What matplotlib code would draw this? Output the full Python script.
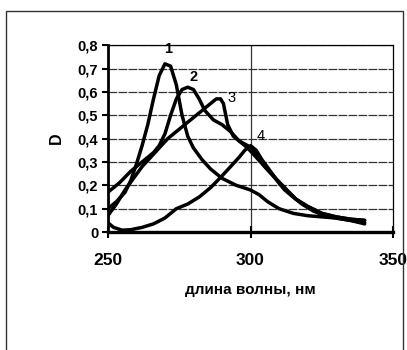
import matplotlib.pyplot as plt
from matplotlib.patches import Rectangle

# ---------------------------------------------------------------------
# Data
# ---------------------------------------------------------------------

x1 = [250, 253, 256, 258, 260, 262, 264, 266, 268, 270, 272, 274, 276, 278,
      280, 283, 286, 290, 295, 300, 303, 306, 310, 315, 320, 325, 330, 335, 340]
y1 = [0.10, 0.13, 0.17, 0.22, 0.29, 0.37, 0.46, 0.57, 0.67, 0.72, 0.71, 0.63,
      0.50, 0.41, 0.36, 0.31, 0.27, 0.23, 0.20, 0.18, 0.16, 0.13, 0.10, 0.08,
      0.07, 0.065, 0.06, 0.05, 0.04]

x2 = [250, 254, 258, 262, 266, 268, 270, 272, 274, 276, 278, 280, 282, 284,
      287, 290, 293, 296, 299, 302, 305, 308, 312, 316, 320, 325, 330, 335, 340]
y2 = [0.17, 0.21, 0.26, 0.30, 0.34, 0.37, 0.42, 0.50, 0.57, 0.61, 0.62, 0.61,
      0.57, 0.52, 0.48, 0.46, 0.43, 0.39, 0.36, 0.32, 0.28, 0.24, 0.18, 0.14,
      0.11, 0.08, 0.065, 0.055, 0.05]

x3 = [250, 253, 256, 259, 262, 265, 268, 271, 274, 277, 280, 283, 286, 288,
      289.5, 290.5, 292, 294, 296, 299, 302, 305, 308, 312, 316, 320, 325,
      330, 335, 340]
y3 = [0.07, 0.12, 0.18, 0.23, 0.28, 0.32, 0.36, 0.40, 0.43, 0.46, 0.49, 0.52,
      0.55, 0.57, 0.57, 0.55, 0.46, 0.41, 0.39, 0.37, 0.33, 0.28, 0.24, 0.19,
      0.14, 0.11, 0.08, 0.065, 0.055, 0.05]

x4 = [250, 252, 255, 258, 262, 266, 270, 274, 278, 282, 286, 290, 293, 296,
      298, 300, 302, 304, 307, 310, 314, 318, 322, 326, 330, 335, 340]
y4 = [0.04, 0.02, 0.008, 0.01, 0.02, 0.035, 0.06, 0.10, 0.12, 0.15, 0.19,
      0.24, 0.28, 0.32, 0.35, 0.37, 0.35, 0.31, 0.26, 0.21, 0.16, 0.12, 0.09,
      0.07, 0.06, 0.05, 0.035]

curve_labels = ["1", "2", "3", "4"]
label_x = [271, 280, 293.5, 303.5]
label_y = [0.785, 0.665, 0.575, 0.41]

x_ticks = [250, 300, 350]
y_ticks = [0, 0.1, 0.2, 0.3, 0.4, 0.5, 0.6, 0.7, 0.8]
y_ticklabels = ["0", "0,1", "0,2", "0,3", "0,4", "0,5", "0,6", "0,7", "0,8"]


# ---------------------------------------------------------------------
# Plot
# ---------------------------------------------------------------------

def main() -> None:
    plt.rcParams["font.family"] = ["Liberation Sans", "DejaVu Sans"]
    plt.rcParams["font.weight"] = "bold"

    fig = plt.figure(figsize=(4.07, 3.5), dpi=100)
    ax = fig.add_axes([0.265, 0.337, 0.701, 0.534])

    # outer frame of the scanned figure
    fig.patches.append(Rectangle((0.015, -0.05), 0.975, 1.019,
                                 transform=fig.transFigure, fill=False,
                                 edgecolor="0.2", linewidth=1.0))

    # grid
    for yv in y_ticks[1:]:
        ax.axhline(yv, color="0.2", linewidth=0.9, linestyle=(0, (7, 1)),
                   zorder=1)
    ax.axvline(300, color="0.2", linewidth=0.9, zorder=1)

    for xs, ys in [(x1, y1), (x2, y2), (x3, y3), (x4, y4)]:
        ax.plot(xs, ys, color="black", linewidth=2.5, solid_capstyle="round",
                solid_joinstyle="round", zorder=3)

    for lab, lx, ly, w in zip(curve_labels, label_x, label_y,
                              ["bold", "bold", "normal", "normal"]):
        ax.text(lx, ly, lab, fontsize=10.5, fontweight=w, ha="center",
                va="center")

    ax.set_xlim(250, 350)
    ax.set_ylim(0, 0.8)
    ax.set_xticks(x_ticks)
    ax.set_yticks(y_ticks)
    ax.set_yticklabels(y_ticklabels)

    ax.spines["left"].set_linewidth(2.0)
    ax.spines["bottom"].set_linewidth(2.4)
    ax.spines["top"].set_linewidth(0.9)
    ax.spines["right"].set_linewidth(0.9)

    ax.tick_params(axis="y", direction="out", length=4, width=1.5,
                   labelsize=10.5, pad=3)
    ax.tick_params(axis="x", direction="inout", length=8, width=1.5,
                   labelsize=12.5, pad=11)
    for t in ax.get_xticklabels() + ax.get_yticklabels():
        t.set_fontweight("bold")

    ax.set_ylabel("D", fontsize=11.5, fontweight="bold", labelpad=10)
    ax.set_xlabel("длина волны, нм", fontsize=11, fontweight="bold",
                  labelpad=11)

    fig.savefig("out.png", dpi=100)
    plt.close(fig)


if __name__ == "__main__":
    main()
